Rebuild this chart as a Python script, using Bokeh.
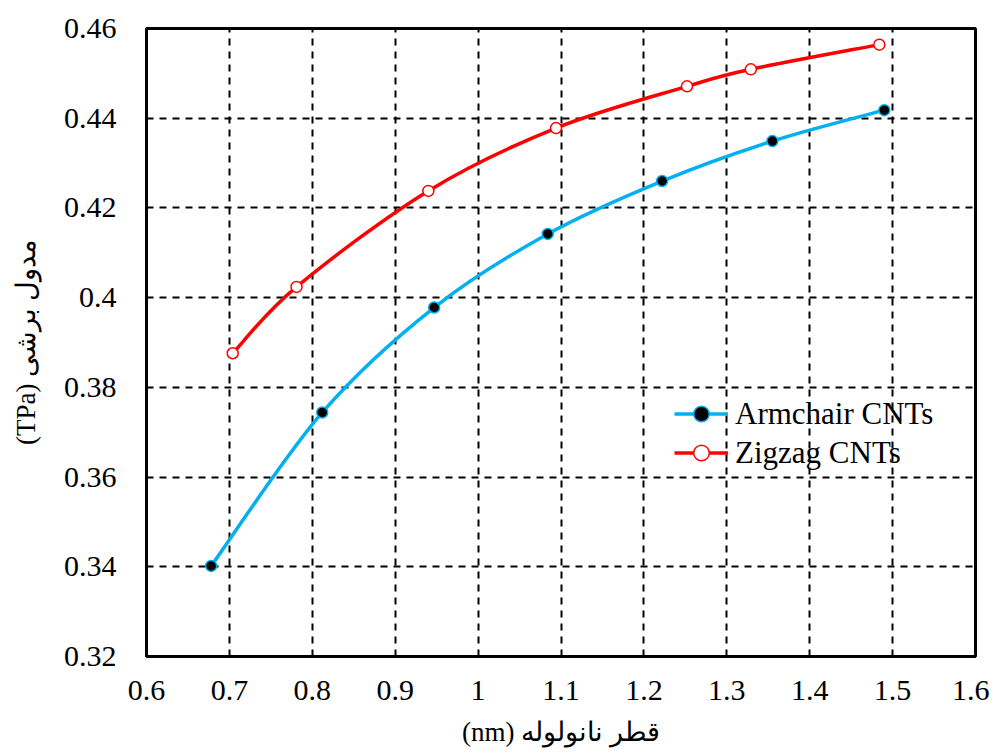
from bokeh.plotting import figure
from bokeh.models import Range1d, FixedTicker, Legend, LegendItem, ColumnDataSource
from bokeh.embed import file_html
from bokeh.resources import INLINE

# Data
armchair_d = [0.678, 0.812, 0.947, 1.084, 1.222, 1.355, 1.490]
armchair_g = [0.3402, 0.3744, 0.3978, 0.4142, 0.4260, 0.4349, 0.4418]
zigzag_d = [0.704, 0.781, 0.940, 1.094, 1.252, 1.329, 1.484]
zigzag_g = [0.3876, 0.4024, 0.4238, 0.4378, 0.4471, 0.4509, 0.4564]
x_ticks = [0.6, 0.7, 0.8, 0.9, 1.0, 1.1, 1.2, 1.3, 1.4, 1.5, 1.6]
y_ticks = [0.32, 0.34, 0.36, 0.38, 0.40, 0.42, 0.44, 0.46]
x_tick_labels = {0.6: "0.6", 0.7: "0.7", 0.8: "0.8", 0.9: "0.9", 1.0: "1", 1.1: "1.1",
                 1.2: "1.2", 1.3: "1.3", 1.4: "1.4", 1.5: "1.5", 1.6: "1.6"}
y_tick_labels = {0.32: "0.32", 0.34: "0.34", 0.36: "0.36", 0.38: "0.38", 0.40: "0.4",
                 0.42: "0.42", 0.44: "0.44", 0.46: "0.46"}
series_names = ["Armchair CNTs", "Zigzag CNTs"]
x_title = "(nm) قطر نانولوله"
y_title = "(TPa) مدول برشی"

FONT = "Liberation Serif"
AX_FONT = "Times New Roman"


def bezier_source(xs, ys):
    # Excel-style smoothed line: cubic Bezier segments with Catmull-Rom control points
    n = len(xs)
    d = dict(x0=[], y0=[], x1=[], y1=[], cx0=[], cy0=[], cx1=[], cy1=[])
    for i in range(n - 1):
        p0 = (xs[i - 1], ys[i - 1]) if i > 0 else (xs[i], ys[i])
        p1 = (xs[i], ys[i])
        p2 = (xs[i + 1], ys[i + 1])
        p3 = (xs[i + 2], ys[i + 2]) if i + 2 < n else (xs[i + 1], ys[i + 1])
        d["x0"].append(p1[0]); d["y0"].append(p1[1])
        d["x1"].append(p2[0]); d["y1"].append(p2[1])
        d["cx0"].append(p1[0] + (p2[0] - p0[0]) / 6.0)
        d["cy0"].append(p1[1] + (p2[1] - p0[1]) / 6.0)
        d["cx1"].append(p2[0] - (p3[0] - p1[0]) / 6.0)
        d["cy1"].append(p2[1] - (p3[1] - p1[1]) / 6.0)
    return ColumnDataSource(d)


p = figure(width=989, height=754, output_backend="svg", toolbar_location=None,
           x_range=Range1d(0.6, 1.6), y_range=Range1d(0.32, 0.46),
           frame_width=829, frame_height=628,
           min_border_left=146, min_border_top=28, min_border_right=14, min_border_bottom=98)

p.background_fill_color = "white"
p.border_fill_color = "white"
p.outline_line_color = "black"
p.outline_line_width = 3

p.xaxis.ticker = FixedTicker(ticks=x_ticks)
p.yaxis.ticker = FixedTicker(ticks=y_ticks)
p.xaxis.major_label_overrides = x_tick_labels
p.yaxis.major_label_overrides = y_tick_labels
for ax in (p.xaxis[0], p.yaxis[0]):
    ax.axis_line_color = "black"
    ax.axis_line_width = 3
    ax.major_tick_line_color = None
    ax.minor_tick_line_color = None
    ax.major_tick_in = 0
    ax.major_tick_out = 0
    ax.minor_tick_in = 0
    ax.minor_tick_out = 0
    ax.major_label_text_font = AX_FONT
    ax.major_label_text_font_size = "30px"
    ax.major_label_text_font_style = "normal"
    ax.major_label_text_color = "black"
    ax.axis_label_text_font = AX_FONT
    ax.axis_label_text_font_size = "27px"
    ax.axis_label_text_font_style = "normal"
    ax.axis_label_text_color = "black"
p.xaxis.major_label_standoff = 24
p.yaxis.major_label_standoff = 30
p.xaxis.axis_label = x_title
p.yaxis.axis_label = y_title
p.xaxis.axis_label_standoff = 14
p.yaxis.axis_label_standoff = 20

p.xgrid.ticker = FixedTicker(ticks=x_ticks)
p.ygrid.ticker = FixedTicker(ticks=y_ticks)
for g in (p.xgrid[0], p.ygrid[0]):
    g.grid_line_color = "black"
    g.grid_line_width = 2
    g.grid_line_dash = "7 6"

blue = "#00B0F0"
red = "#FF0000"

p.bezier(x0="x0", y0="y0", x1="x1", y1="y1", cx0="cx0", cy0="cy0", cx1="cx1", cy1="cy1",
         source=bezier_source(armchair_d, armchair_g), line_color=blue, line_width=3.5)
p.bezier(x0="x0", y0="y0", x1="x1", y1="y1", cx0="cx0", cy0="cy0", cx1="cx1", cy1="cy1",
         source=bezier_source(zigzag_d, zigzag_g), line_color=red, line_width=3.5)

ma = p.scatter(armchair_d, armchair_g, size=11, fill_color="black", line_color=blue, line_width=1.5)
mz = p.scatter(zigzag_d, zigzag_g, size=11, fill_color="white", line_color=red, line_width=1.5)

# legend proxies (line + marker)
la = p.line([armchair_d[0]], [armchair_g[0]], line_color=blue, line_width=3.5)
lz = p.line([zigzag_d[0]], [zigzag_g[0]], line_color=red, line_width=3.5)

legend = Legend(items=[LegendItem(label=series_names[0], renderers=[la, ma]),
                       LegendItem(label=series_names[1], renderers=[lz, mz])],
                location=(528, 184))
legend.label_text_font = FONT
legend.label_text_font_size = "31px"
legend.label_text_color = "black"
legend.background_fill_alpha = 0
legend.border_line_color = None
legend.glyph_width = 54
legend.glyph_height = 39
legend.label_height = 39
legend.spacing = 0
legend.label_standoff = 7
legend.padding = 0
legend.margin = 0
p.add_layout(legend)

open("out.html", "w").write(file_html(p, INLINE))
